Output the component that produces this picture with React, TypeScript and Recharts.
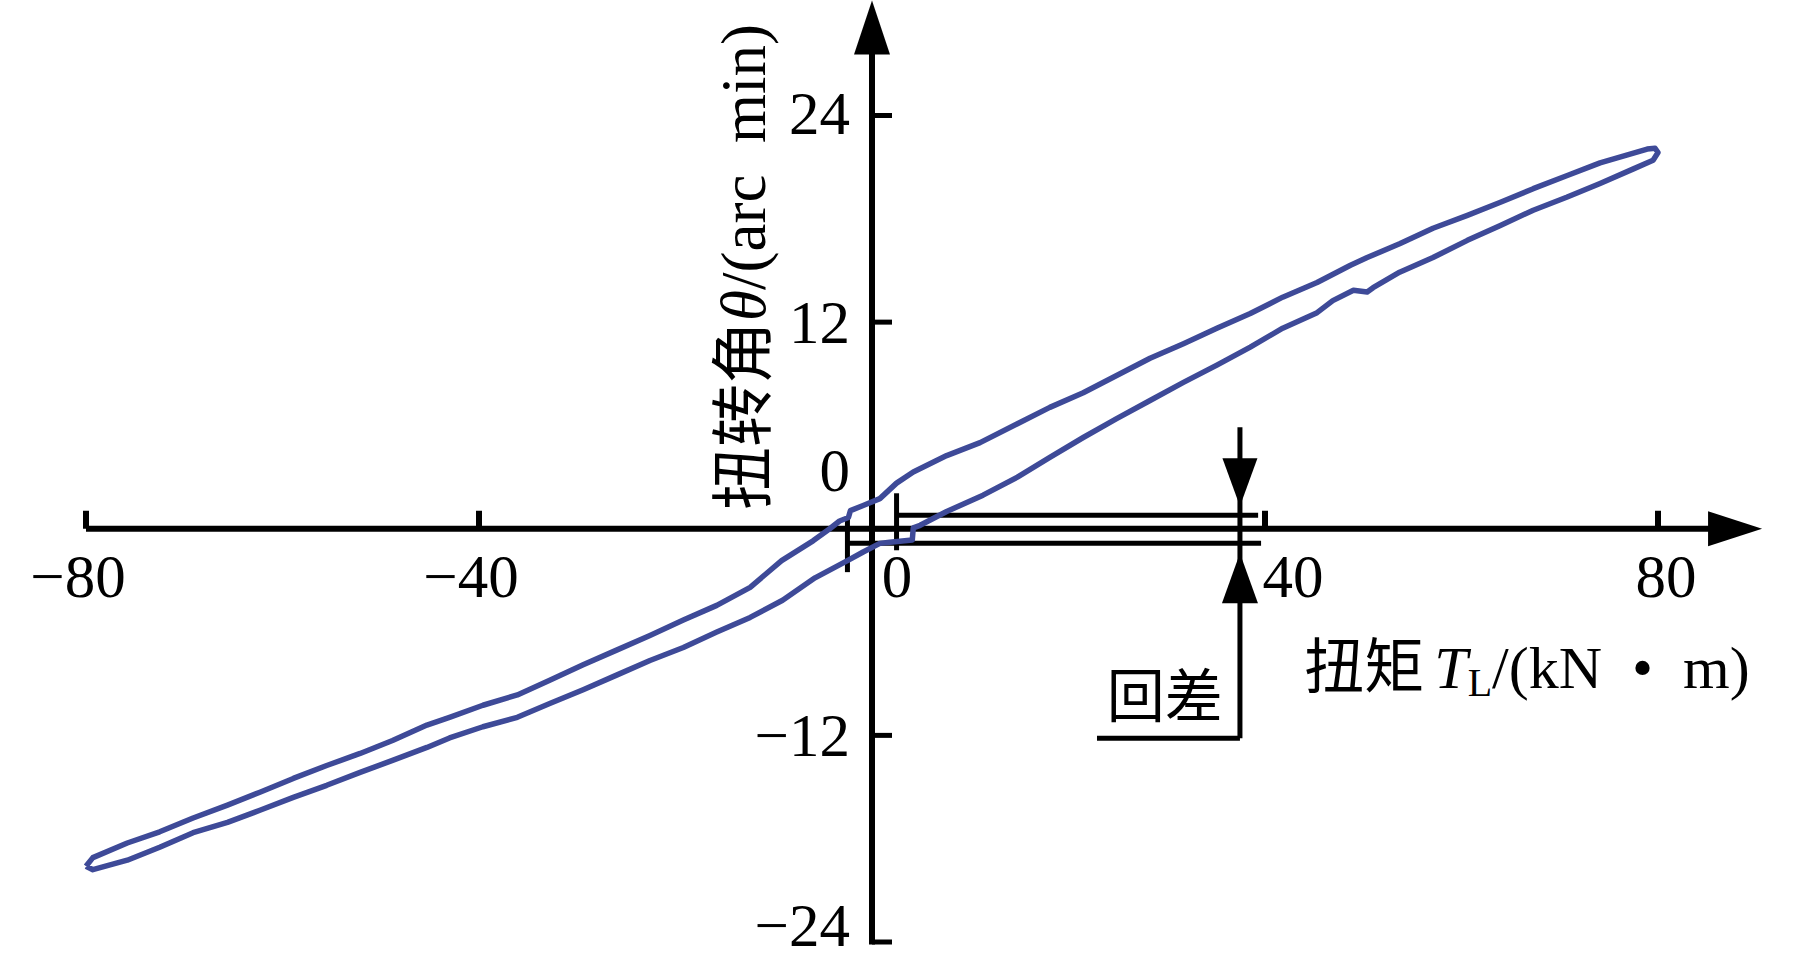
import React from 'react';
import { ScatterChart, Scatter, XAxis, YAxis, ReferenceLine, ReferenceDot } from 'recharts';

// ---------- data ----------
// Upper branch of the hysteresis loop: torque T_L (kN·m) -> twist angle θ (arc min), from -80 to +80
const torqueUpper = [
  -80.0, -79.3, -75.8, -72.5, -69.1, -65.6, -62.3, -58.9, -55.5, -52.1, -48.8, -45.3, -43.0, -39.6,
  -36.1, -32.8, -29.4, -26.0, -22.6, -19.2, -15.8, -12.4, -9.2, -6.0, -4.3, -3.3, -2.4, -2.2, -0.9,
  0.8, 2.5, 4.2, 7.6, 11.0, 14.8, 18.1, 21.5, 24.9, 28.3, 31.7, 35.1, 38.5, 41.8, 45.3, 48.7, 50.4,
  53.7, 57.1, 60.6, 63.9, 67.3, 70.7, 74.1, 78.9, 79.7, 80.0,
];
const angleUpper = [
  -19.6, -19.1, -18.25, -17.6, -16.8, -16.05, -15.3, -14.5, -13.75, -13.05, -12.3, -11.4, -10.95, -10.25,
  -9.65, -8.8, -7.9, -7.05, -6.2, -5.3, -4.45, -3.4, -1.85, -0.7, 0.0, 0.45, 0.65, 1.05, 1.35,
  1.75, 2.65, 3.3, 4.25, 5.0, 6.1, 7.05, 7.9, 8.9, 9.9, 10.75, 11.65, 12.5, 13.45, 14.3, 15.3, 15.75,
  16.55, 17.45, 18.2, 18.95, 19.75, 20.5, 21.25, 22.05, 22.1, 21.85,
];
// Lower branch, from +80 back to -80
const torqueLower = [
  79.5, 77.5, 74.1, 70.7, 67.3, 63.9, 60.6, 57.1, 53.7, 51.0, 50.4, 49.0, 46.9, 45.3, 41.8, 38.5,
  35.1, 31.7, 28.3, 24.9, 21.5, 18.1, 14.8, 11.3, 7.6, 4.9, 4.2, 4.1, 1.8, 0.8, -0.9, -2.5, -5.8,
  -9.1, -12.4, -15.8, -19.2, -22.6, -26.0, -29.4, -32.8, -36.1, -39.6, -43.0, -45.3, -48.8, -52.1,
  -55.5, -58.9, -62.3, -65.6, -69.1, -72.5, -75.8, -79.3, -80.0,
];
const angleLower = [
  21.4, 20.9, 20.05, 19.25, 18.5, 17.6, 16.75, 15.75, 14.9, 14.0, 13.75, 13.85, 13.25, 12.55, 11.65, 10.55,
  9.5, 8.5, 7.45, 6.4, 5.3, 4.15, 3.0, 1.95, 1.0, 0.2, 0.05, -0.65, -0.78, -0.85, -1.35, -1.85, -2.85,
  -4.15, -5.15, -6.0, -6.9, -7.65, -8.5, -9.35, -10.15, -10.95, -11.5, -12.15, -12.7, -13.45, -14.15,
  -14.9, -15.6, -16.35, -17.05, -17.65, -18.5, -19.25, -19.8, -19.6,
];

const xTicks = [-80, -40, 0, 40, 80];
const xTickLabels = ['\u221280', '\u221240', '0', '40', '80'];
const yTicks = [-24, -12, 0, 12, 24];
const yTickLabels = ['\u221224', '\u221212', '0', '12', '24'];

// backlash (回差) annotation values
const backlashUpper = 0.78;
const backlashLower = -0.84;
const backlashUpperStart = 2.5;
const backlashLowerStart = -2.5;
const backlashEnd = 39.3;
const backlashMarkerTorque = 37.45;
const backlashMarkerTop = 5.9;
const backlashMarkerBottom = -12.16;
const backlashLabelStart = 22.9;
const backlashLabelPos = { x: 29.8, y: -9.8 };

// axis extents
const xAxisArrowBase = 85.2;
const yAxisArrowBase = 27.6;
const xTitlePos = { x: 44.0, y: -9.26 };
const yTitlePos = { x: -13.0, y: 15.2 };

// ---------- styling ----------
const W = 1819;
const H = 960;
const CURVE = '#3e4a98';
const INK = '#000';
const SERIF = "'Liberation Serif', 'Times New Roman', 'Noto Sans CJK SC', serif";
const xLabelDx: Record<number, number> = { [-80]: -8, [-40]: -8, 0: 25, 40: 28, 80: 8 };
const yLabelDy: Record<number, number> = { [-24]: -17, [-12]: 0, 0: -58, 12: 0, 24: -2 };

const loop = [
  ...torqueUpper.map((t, i) => ({ x: t, y: angleUpper[i] })),
  ...torqueLower.map((t, i) => ({ x: t, y: angleLower[i] })),
];

const noDot = () => <g />;

export default function App() {
  return (
    <div style={{ position: 'fixed', left: 0, top: 0, width: W, height: H, background: '#fff' }}>
      <ScatterChart width={W} height={H} margin={{ top: 115.5, right: 161, bottom: 18, left: 86 }}>
        <XAxis type="number" dataKey="x" domain={[-80, 80]} ticks={xTicks} hide />
        <YAxis type="number" dataKey="y" domain={[-24, 24]} ticks={yTicks} hide />

        {/* axes */}
        <ReferenceLine
          segment={[{ x: -80, y: 0 }, { x: xAxisArrowBase, y: 0 }]}
          stroke={INK}
          strokeWidth={6}
          ifOverflow="visible"
        />
        <ReferenceLine
          segment={[{ x: 0, y: -24.15 }, { x: 0, y: yAxisArrowBase }]}
          stroke={INK}
          strokeWidth={6}
          ifOverflow="visible"
        />
        <ReferenceDot
          x={xAxisArrowBase}
          y={0}
          ifOverflow="visible"
          shape={(p: any) => (
            <polygon points={`${p.cx - 1},${p.cy - 17.5} ${p.cx + 53},${p.cy} ${p.cx - 1},${p.cy + 17.5}`} fill={INK} />
          )}
        />
        <ReferenceDot
          x={0}
          y={yAxisArrowBase}
          ifOverflow="visible"
          shape={(p: any) => (
            <polygon points={`${p.cx - 18},${p.cy + 1} ${p.cx},${p.cy - 53} ${p.cx + 18},${p.cy + 1}`} fill={INK} />
          )}
        />

        {/* x ticks */}
        {xTicks.map((t, i) => (
          <ReferenceDot
            key={`xt${t}`}
            x={t}
            y={0}
            ifOverflow="visible"
            shape={(p: any) => (
              <g>
                <line x1={p.cx} x2={p.cx} y1={p.cy} y2={p.cy - 18} stroke={INK} strokeWidth={6} />
                <text
                  x={p.cx + xLabelDx[t]}
                  y={p.cy + 48}
                  textAnchor="middle"
                  dominantBaseline="central"
                  fontFamily={SERIF}
                  fontSize={61}
                  fill={INK}
                >
                  {xTickLabels[i]}
                </text>
              </g>
            )}
          />
        ))}

        {/* y ticks */}
        {yTicks.map((t, i) => (
          <ReferenceDot
            key={`yt${t}`}
            x={0}
            y={t}
            ifOverflow="visible"
            shape={(p: any) => (
              <g>
                <line x1={p.cx} x2={p.cx + 20} y1={p.cy} y2={p.cy} stroke={INK} strokeWidth={5} />
                <text
                  x={p.cx - 22}
                  y={p.cy + yLabelDy[t]}
                  textAnchor="end"
                  dominantBaseline="central"
                  fontFamily={SERIF}
                  fontSize={61}
                  fill={INK}
                >
                  {yTickLabels[i]}
                </text>
              </g>
            )}
          />
        ))}

        {/* axis titles */}
        <ReferenceDot
          x={yTitlePos.x}
          y={yTitlePos.y}
          ifOverflow="visible"
          shape={(p: any) => (
            <text
              x={p.cx}
              y={p.cy}
              transform={`rotate(-90, ${p.cx}, ${p.cy})`}
              textAnchor="middle"
              dominantBaseline="central"
              fontFamily={SERIF}
              fontSize={63}
              fill={INK}
            >
              扭转角<tspan fontStyle="italic">θ</tspan>/(arc{'\u2002'}min)
            </text>
          )}
        />
        <ReferenceDot
          x={xTitlePos.x}
          y={xTitlePos.y}
          ifOverflow="visible"
          shape={(p: any) => (
            <text x={p.cx} y={p.cy} textAnchor="start" fontFamily={SERIF} fontSize={60} fill={INK}>
              扭矩
              <tspan fontStyle="italic" dx={10}>T</tspan>
              <tspan fontSize={40} dy={8}>L</tspan>
              <tspan dy={-8}>/(kN{'\u2002'}•{'\u2002'}m)</tspan>
            </text>
          )}
        />

        {/* backlash annotation */}
        <ReferenceLine
          segment={[{ x: backlashUpperStart, y: backlashUpper }, { x: backlashEnd, y: backlashUpper }]}
          stroke={INK}
          strokeWidth={5}
          ifOverflow="visible"
        />
        <ReferenceLine
          segment={[{ x: backlashLowerStart, y: backlashLower }, { x: backlashEnd + 0.3, y: backlashLower }]}
          stroke={INK}
          strokeWidth={5}
          ifOverflow="visible"
        />
        <ReferenceLine
          segment={[{ x: backlashUpperStart, y: 2.06 }, { x: backlashUpperStart, y: -1.25 }]}
          stroke={INK}
          strokeWidth={5}
          ifOverflow="visible"
        />
        <ReferenceLine
          segment={[{ x: backlashLowerStart, y: 0.67 }, { x: backlashLowerStart, y: -2.52 }]}
          stroke={INK}
          strokeWidth={5}
          ifOverflow="visible"
        />
        <ReferenceLine
          segment={[{ x: backlashMarkerTorque, y: backlashMarkerTop }, { x: backlashMarkerTorque, y: backlashMarkerBottom }]}
          stroke={INK}
          strokeWidth={5}
          ifOverflow="visible"
        />
        <ReferenceLine
          segment={[{ x: backlashLabelStart, y: backlashMarkerBottom }, { x: backlashMarkerTorque, y: backlashMarkerBottom }]}
          stroke={INK}
          strokeWidth={5}
          ifOverflow="visible"
        />
        <ReferenceDot
          x={backlashMarkerTorque}
          y={backlashUpper}
          ifOverflow="visible"
          shape={(p: any) => (
            <polygon points={`${p.cx - 17.5},${p.cy - 57} ${p.cx},${p.cy - 9} ${p.cx + 17.5},${p.cy - 57}`} fill={INK} />
          )}
        />
        <ReferenceDot
          x={backlashMarkerTorque}
          y={backlashLower}
          ifOverflow="visible"
          shape={(p: any) => (
            <polygon points={`${p.cx - 18},${p.cy + 60} ${p.cx},${p.cy + 10} ${p.cx + 18},${p.cy + 60}`} fill={INK} />
          )}
        />
        <ReferenceDot
          x={backlashLabelPos.x}
          y={backlashLabelPos.y}
          ifOverflow="visible"
          shape={(p: any) => (
            <text
              x={p.cx}
              y={p.cy}
              textAnchor="middle"
              dominantBaseline="central"
              fontFamily={SERIF}
              fontSize={58}
              fill={INK}
            >
              回差
            </text>
          )}
        />

        {/* hysteresis loop */}
        <Scatter
          data={loop}
          line={{ stroke: CURVE, strokeWidth: 5.5, strokeLinejoin: 'round' }}
          lineType="joint"
          shape={noDot}
          fill={CURVE}
          isAnimationActive={false}
        />
      </ScatterChart>
    </div>
  );
}
